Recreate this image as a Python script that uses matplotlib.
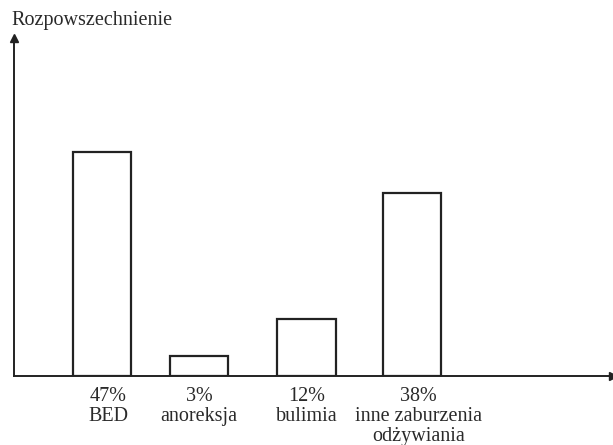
import matplotlib
matplotlib.use("Agg")
import matplotlib.pyplot as plt
from matplotlib.transforms import blended_transform_factory, offset_copy

categories = ["BED", "anoreksja", "bulimia", "inne zaburzenia\nodżywiania"]
percent_labels = ["47%", "3%", "12%", "38%"]
bar_heights = [47, 4.1, 11.9, 38.4]
x_positions = [0, 0.94, 1.98, 3.0]
label_positions = [0.06, 0.94, 1.98, 3.06]

plt.rcParams['font.family'] = ['Liberation Serif', 'DejaVu Serif']

W, H = 613, 445
fig = plt.figure(figsize=(W / 100, H / 100), dpi=100)
ax_left, ax_right = 14, 613
base_y, top_y = 375.7, 38
ax = fig.add_axes([ax_left / W, (H - base_y) / H, (ax_right - ax_left) / W, (base_y - top_y) / H])

unit = 103.4
x0 = -(101.8 - ax_left) / unit
ax.set_xlim(x0, x0 + (ax_right - ax_left) / unit)
ax.set_ylim(0, (base_y - top_y) / 4.76)

ax.bar(x_positions, bar_heights, width=58.5 / unit, facecolor='white',
       edgecolor='#222222', linewidth=1.6, zorder=2)

ax.set_xticks([])
ax.set_yticks([])
trans = offset_copy(blended_transform_factory(ax.transData, ax.transAxes), fig=fig, y=-11, units='dots')
for xp, p, c in zip(label_positions, percent_labels, categories):
    ax.text(xp, 0, f"{p}\n{c}", transform=trans, ha='center', va='top',
            fontsize=14.5, linespacing=1.08, color='#2a2a2a', clip_on=False)

for s in ['top', 'right']:
    ax.spines[s].set_visible(False)
for s in ['left', 'bottom']:
    ax.spines[s].set_linewidth(1.4)
    ax.spines[s].set_color('#222222')

ax.plot(1, 0, '>', color='#222222', markersize=6, transform=ax.transAxes, clip_on=False)
ax.plot(0, 1, '^', color='#222222', markersize=6, transform=ax.transAxes, clip_on=False)

fig.text(11 / W, 1 - 21 / H, "Rozpowszechnienie", fontsize=14.5, ha='left', va='center', color='#2a2a2a')

fig.savefig("out.png", dpi=100)
